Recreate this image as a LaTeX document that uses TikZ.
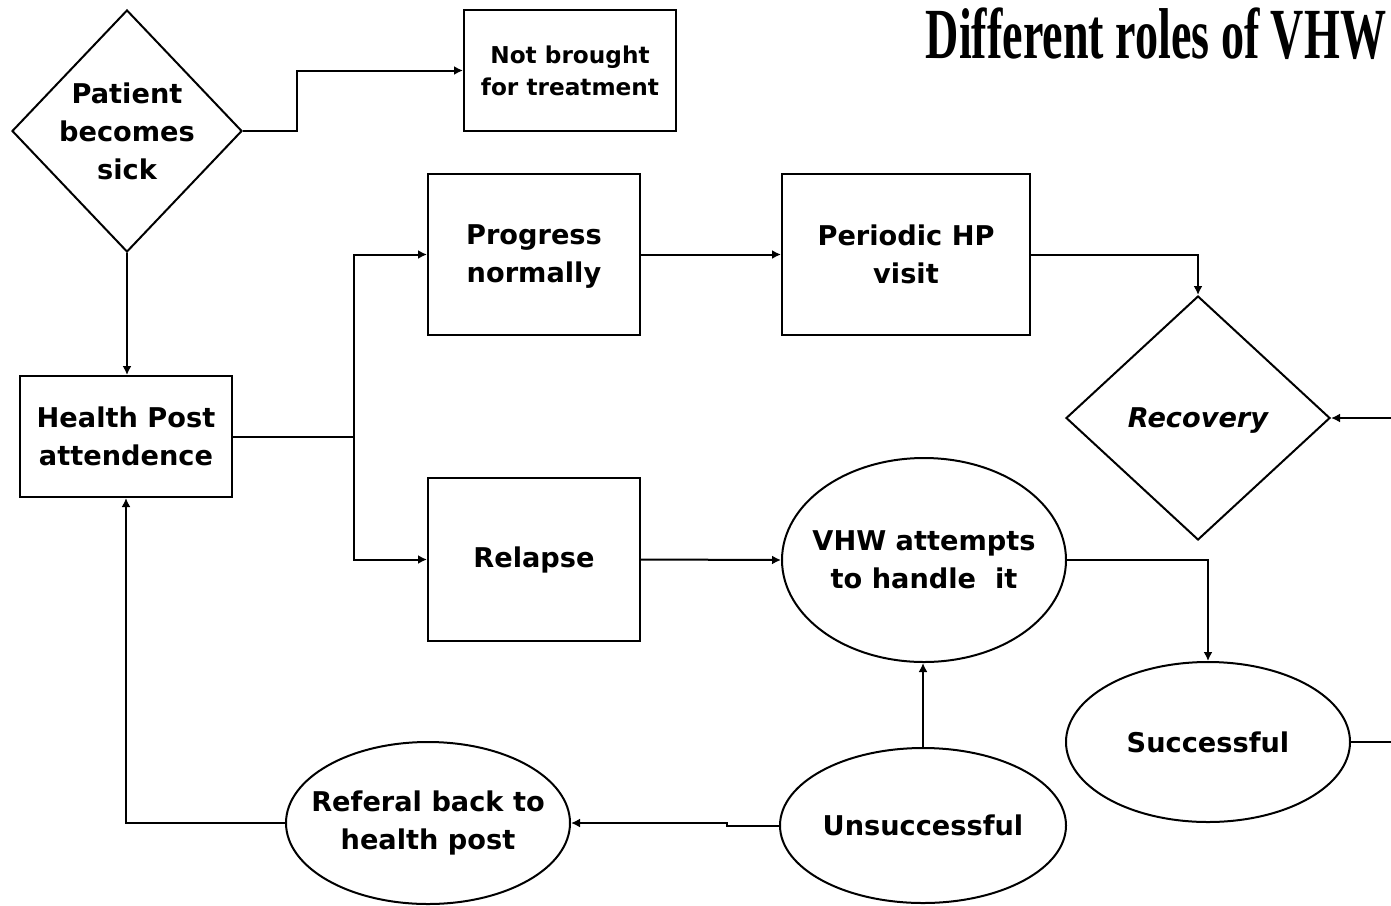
\documentclass[tikz,border=0pt]{standalone}
\usepackage{fontspec}
\setmainfont{DejaVu Sans}
\newfontfamily\titlefont{Liberation Serif}
\usetikzlibrary{shapes.geometric,arrows.meta}
\tikzset{
  every picture/.style={line width=1pt},
  lbl/.style={font=\fontsize{13.6}{19}\selectfont\bfseries, align=center, inner sep=0pt},
  smalllbl/.style={font=\fontsize{11.6}{16}\selectfont\bfseries, align=center, inner sep=0pt},
  boxnode/.style={draw, rectangle, inner sep=0pt, lbl},
  dianode/.style={draw, diamond, inner sep=0pt},
  ellnode/.style={draw, ellipse, inner sep=0pt},
  arr/.style={-{Latex[length=4.5pt,width=4.5pt]}},
}
\begin{document}
\begin{tikzpicture}[x=0.5pt,y=-0.5pt]
\useasboundingbox (0,0) rectangle (1391,905);
\clip (0,0) rectangle (1391,905);
\fill[white] (0,0) rectangle (1391,905);

% title
\node[anchor=base, inner sep=0pt, font=\titlefont\bfseries\fontsize{36}{40}\selectfont] (title) at (1156,58) {\scalebox{0.64}[1]{Different roles of VHW}};

% nodes
\node[dianode, minimum width=115pt, minimum height=121pt] (sick) at (127,131) {};
\node[lbl] (sicktxt) at (sick.center) {Patient\\becomes\\sick};
\node[draw, rectangle, inner sep=0pt, smalllbl, minimum width=106pt, minimum height=60.5pt] (notb) at (570,70.5) {Not brought\\for treatment};
\node[draw, rectangle, minimum width=106pt, minimum height=80.5pt] (prog) at (534,254.5) {};
\node[lbl] (progtxt) at (534,256.5) {Progress\\normally};
\node[boxnode, minimum width=124pt, minimum height=80.5pt] (peri) at (906,254.5) {Periodic HP\\visit};
\node[dianode, minimum width=132pt, minimum height=122pt] (rec) at (1198,418) {};
\node[lbl, font=\fontsize{13.6}{19}\selectfont\bfseries\itshape] (rectxt) at (1198,421) {Recovery};
\node[boxnode, minimum width=106pt, minimum height=60.5pt] (hp) at (126,436.5) {Health Post\\attendence};
\node[boxnode, minimum width=106pt, minimum height=81.5pt] (rel) at (534,559.5) {Relapse};
\node[ellnode, minimum width=142pt, minimum height=102pt] (vhw) at (924,560) {};
\node[lbl] (vhwtxt) at (vhw.center) {VHW attempts\\to handle\ \ it};
\node[ellnode, minimum width=142pt, minimum height=80pt] (succ) at (1208,742) {};
\node[lbl] (succtxt) at (succ.center) {Successful};
\node[ellnode, minimum width=143pt, minimum height=77.5pt] (unsucc) at (923,825.5) {};
\node[lbl] (unsucctxt) at (unsucc.center) {Unsuccessful};
\node[ellnode, minimum width=142pt, minimum height=81pt] (ref) at (428,823) {};
\node[lbl] (reftxt) at (ref.center) {Referal back to\\health post};

% helper coordinates
\coordinate (split) at (354,436.5);
\coordinate (off1) at (1420,742);
\coordinate (off2) at (1420,418);

% connectors
\draw[arr] (sick.east) -- ++(54,0) |- (notb.west);
\draw[arr] (sick.south) -- (sick.south |- hp.north);
\draw (hp.east) -- (split);
\draw[arr] (split) |- (prog.west);
\draw[arr] (split) |- (rel.west);
\draw[arr] (prog.east) -- (peri.west);
\draw[arr] (rel.east) -- (vhw.west);
\draw[arr] (peri.east) -| (rec.north);
\draw[arr] (vhw.east) -| (succ.north);
\draw (succ.east) -- (off1) -- (off2);
\draw[arr] (off2) -- (rec.east);
\draw[arr] (unsucc.north) -- (unsucc.north |- vhw.south);
\draw[arr] (unsucc.west) -- ++(-52,0) |- (ref.east);
\draw[arr] (ref.west) -| (hp.south);
\end{tikzpicture}
\end{document}
